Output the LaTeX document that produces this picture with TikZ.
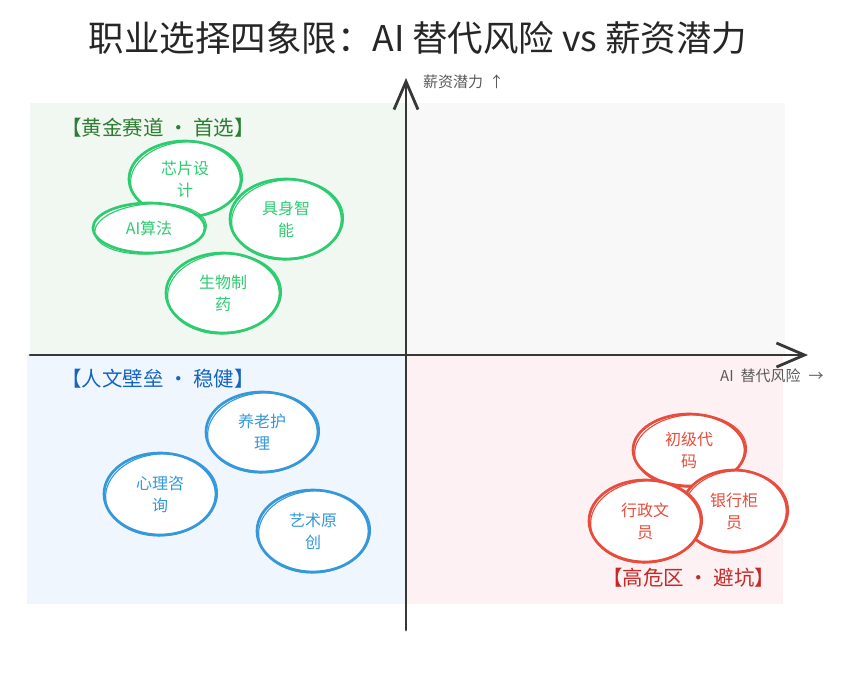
\documentclass[tikz,border=0pt]{standalone}
\usepackage{fontspec}
\setmainfont{Noto Sans CJK SC}
\usetikzlibrary{shapes.geometric,arrows.meta}
\definecolor{gbg}{RGB}{241,248,241}
\definecolor{tbg}{RGB}{248,248,248}
\definecolor{bbg}{RGB}{239,246,254}
\definecolor{rbg}{RGB}{254,241,243}
\definecolor{gline}{RGB}{46,204,113}
\definecolor{bline}{RGB}{52,152,219}
\definecolor{rline}{RGB}{231,76,60}
\definecolor{glab}{RGB}{46,125,50}
\definecolor{blab}{RGB}{21,101,192}
\definecolor{rlab}{RGB}{198,40,40}
\definecolor{axis}{RGB}{55,55,55}
\definecolor{axtext}{RGB}{90,90,90}
\tikzset{
  blobstyle/.style={ellipse, fill=white, line width=2.7pt, inner sep=0pt, align=center,
    font=\fontsize{16}{22}\selectfont},
  qlabel/.style={font=\fontsize{20.5}{22}\selectfont, anchor=west, inner sep=0pt},
  axlabel/.style={font=\fontsize{15}{16}\selectfont, text=axtext, anchor=west, inner sep=0pt},
  axisline/.style={draw=axis, line width=2.8pt, line cap=round,
    -{Straight Barb[length=28pt,width=24pt,line width=2.8pt]}}
}
\newcommand\myblob[7]{%
  \node[blobstyle, draw=#6, text=#6, minimum width={2*#4 pt}, minimum height={2*#5 pt}] (#1) at (#2,#3) {#7};
  \draw[#6, line width=1.1pt, rotate around={4:(#1.center)}] ([shift={(1.5pt,-1pt)}]#1.center) ellipse [x radius=#4, y radius=#5];
}
\begin{document}
\begin{tikzpicture}[x=1pt,y=-1pt]
\useasboundingbox (0,0) rectangle (848,673);
\fill[white] (0,0) rectangle (848,673);
% quadrants
\fill[gbg] (30,103) rectangle (406,355);
\fill[tbg] (406,103) rectangle (785,355);
\fill[bbg] (27,355) rectangle (406,604);
\fill[rbg] (406,355) rectangle (783,604);
% title
\node[font=\fontsize{35.5}{40}\selectfont, text=black!85] (title) at (418,38) {职业选择四象限：AI 替代风险 vs 薪资潜力};
% axes
\coordinate (ybot) at (406,630);
\coordinate (ytop) at (406,78);
\coordinate (xl) at (30,355);
\coordinate (xr) at (808,355);
\draw[axisline] (ybot) -- (ytop);
\draw[axisline] (xl) -- (xr);
\node[axlabel] (ylab) at (423,82) {薪资潜力\hspace{6pt}↑};
\node[axlabel] (xlab) at (720,376) {AI\hspace{7pt}替代风险\hspace{8pt}→};
% quadrant labels
\node[qlabel, text=glab] (gl) at (61,128) {【黄金赛道 · 首选】};
\node[qlabel, text=blab] (bl) at (61,379) {【人文壁垒 · 稳健】};
\node[qlabel, text=rlab] (rl) at (602,578) {【高危区 · 避坑】};
% green
\myblob{chip}{185}{179}{56}{38}{gline}{芯片设\\计}
\myblob{aialg}{149}{228}{56}{25}{gline}{AI算法}
\myblob{embod}{286}{219}{56}{40}{gline}{具身智\\能}
\myblob{bio}{223}{293}{57}{40}{gline}{生物制\\药}
% blue
\myblob{care}{262}{432}{56}{40}{bline}{养老护\\理}
\myblob{psy}{160}{494}{56}{41}{bline}{心理咨\\询}
\myblob{art}{313}{531}{56}{41}{bline}{艺术原\\创}
% red
\myblob{code}{689}{450}{56}{36}{rline}{初级代\\码}
\myblob{bank}{734}{511}{53}{41}{rline}{银行柜\\员}
\myblob{admin}{645}{521}{56}{41}{rline}{行政文\\员}
\end{tikzpicture}
\end{document}
